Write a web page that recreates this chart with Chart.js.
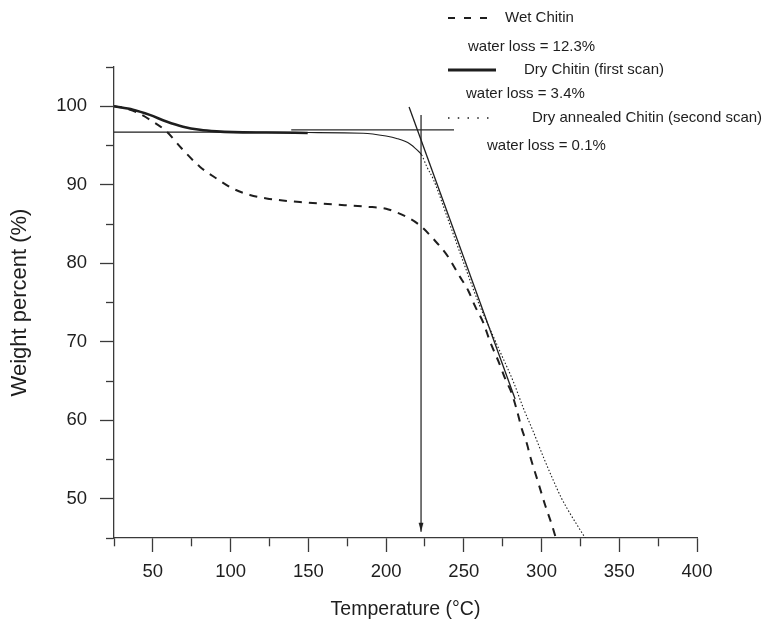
<!DOCTYPE html>
<html>
<head>
<meta charset="utf-8">
<script src="https://cdn.jsdelivr.net/npm/chart.js@4.4.0/dist/chart.umd.min.js"></script>
<style>
  html, body { margin: 0; padding: 0; background: #fff; }
  canvas { display: block; }
</style>
</head>
<body>
<canvas id="tgaChart" width="764" height="619"></canvas>
<script>
// temperature (°C) and weight (%)
const wetTemp = [25, 33, 40, 48, 58.7, 68.4, 80.2, 90.9, 101.6, 112.4, 123.1, 144.6, 166, 187.5, 200, 206.5, 213.3, 221.9, 230.4, 240, 246.5, 252.9, 257.3, 262.6, 266.9, 272.3, 276.6, 280.9, 284.1, 287.3, 290.6, 292.7, 297.5, 302.3, 306.6, 309.2];
const wetWeight = [100, 99.7, 99.2, 98.3, 96.8, 94.65, 92.3, 90.8, 89.5, 88.7, 88.25, 87.8, 87.5, 87.2, 86.95, 86.5, 85.9, 84.8, 83.1, 80.8, 78.6, 76.5, 74.5, 72.4, 70.0, 67.5, 65.3, 63.4, 61.3, 58.9, 57.0, 55.4, 52.3, 49.2, 46.7, 45];

const dryTemp = [25, 37.2, 48, 58.7, 69.4, 80.3, 91, 101.7, 123, 149.6];
const dryWeight = [100, 99.56, 98.9, 98.06, 97.4, 97.0, 96.8, 96.7, 96.65, 96.6];

const annealTemp = [25, 60, 100, 150, 185.3, 200, 206.8, 215.4, 220.1, 222.9, 226.2, 230.4, 240, 250, 260, 266, 273.4, 281.9, 288.4, 294.8, 301.2, 307, 313, 319, 324, 328.1];
const annealWeight = [96.7, 96.7, 96.7, 96.65, 96.57, 96.2, 95.9, 95.2, 94.4, 93.8, 92.3, 90.7, 85.5, 80.0, 74.7, 72.0, 68.7, 64.9, 61.5, 58.5, 55.3, 52.6, 50.0, 47.9, 46.3, 45];

// onset construction: tangent, baseline and the arrow down to the axis
const tangentTemp = [214.8, 283];
const tangentWeight = [99.9, 62.7];
const baseTemp = [139, 243.7];
const baseWeight = [97, 97];
const onsetTemp = [222.5, 222.5];
const onsetWeight = [98.9, 45.8];

const seriesLabels = ['Wet Chitin', 'Dry Chitin (first scan)', 'Dry annealed Chitin (second scan)'];
const waterLoss = ['12.3%', '3.4%', '0.1%'];

const xTickLabels = [50, 100, 150, 200, 250, 300, 350, 400];
const yTickLabels = [50, 60, 70, 80, 90, 100];

const FONT = '"Liberation Sans", Arial, Helvetica, sans-serif';
const INK = '#1e1e1e';
const AXIS = '#3a3a3a';

function pts(xs, ys) {
    return xs.map((x, i) => ({ x: x, y: ys[i] }));
}

// narrow arrow head, tip sits in the centre of the canvas
const arrowHead = document.createElement('canvas');
arrowHead.width = 6;
arrowHead.height = 20;
(function () {
    const c = arrowHead.getContext('2d');
    c.fillStyle = INK;
    c.beginPath();
    c.moveTo(0.6, 1);
    c.lineTo(5.4, 1);
    c.lineTo(3, 10);
    c.closePath();
    c.fill();
})();

// the legend of the figure: samples, names and water loss notes
const notesLegend = {
    id: 'notesLegend',
    afterDraw(chart) {
        const ctx = chart.ctx;
        const rows = [
            { y: 18, textX: 505, noteX: 468, noteY: 47, end: 487, dash: [7, 9], width: 2 },
            { y: 70, textX: 524, noteX: 466, noteY: 94, end: 496, dash: [], width: 3 },
            { y: 118, textX: 532, noteX: 487, noteY: 146, end: 488.5, dash: [1.5, 8.25], width: 1.4 }
        ];
        ctx.save();
        ctx.font = '15px ' + FONT;
        ctx.fillStyle = INK;
        ctx.textBaseline = 'middle';
        ctx.textAlign = 'left';
        rows.forEach((r, i) => {
            ctx.strokeStyle = INK;
            ctx.lineWidth = r.width;
            ctx.setLineDash(r.dash);
            ctx.beginPath();
            ctx.moveTo(448, r.y);
            ctx.lineTo(r.end, r.y);
            ctx.stroke();
            ctx.setLineDash([]);
            ctx.fillText(seriesLabels[i], r.textX, r.y);
            ctx.fillText('water loss = ' + waterLoss[i], r.noteX, r.noteY);
        });
        ctx.restore();
    }
};

const tickFont = { family: FONT, size: 18.5 };

new Chart(document.getElementById('tgaChart').getContext('2d'), {
    type: 'scatter',
    data: {
        datasets: [
            {
                label: seriesLabels[0],
                data: pts(wetTemp, wetWeight),
                showLine: true,
                borderColor: INK,
                borderWidth: 2,
                borderDash: [8, 7],
                pointRadius: 0,
                cubicInterpolationMode: 'monotone'
            },
            {
                label: seriesLabels[1],
                data: pts(dryTemp, dryWeight),
                showLine: true,
                borderColor: INK,
                borderWidth: 2.6,
                pointRadius: 0,
                cubicInterpolationMode: 'monotone'
            },
            {
                label: seriesLabels[2],
                data: pts(annealTemp, annealWeight),
                showLine: true,
                borderColor: INK,
                borderWidth: 1.1,
                pointRadius: 0,
                cubicInterpolationMode: 'monotone',
                segment: {
                    borderDash: ctx => ctx.p0.parsed.x >= 222 ? [1.5, 2] : undefined
                }
            },
            {
                label: 'tangent',
                data: pts(tangentTemp, tangentWeight),
                showLine: true,
                borderColor: INK,
                borderWidth: 1.3,
                pointRadius: 0
            },
            {
                label: 'baseline',
                data: pts(baseTemp, baseWeight),
                showLine: true,
                borderColor: '#2a2a2a',
                borderWidth: 1.3,
                pointRadius: 0
            },
            {
                label: 'onset',
                data: pts(onsetTemp, onsetWeight),
                showLine: true,
                borderColor: INK,
                borderWidth: 1.2,
                pointStyle: arrowHead,
                pointRadius: [0, 3]
            }
        ]
    },
    options: {
        responsive: false,
        animation: false,
        events: [],
        devicePixelRatio: 1,
        layout: { padding: { top: 67, right: 67, left: 0, bottom: 0 } },
        plugins: {
            legend: { display: false },
            tooltip: { enabled: false }
        },
        scales: {
            x: {
                type: 'linear',
                position: 'bottom',
                min: 25,
                max: 400,
                afterFit: s => { s.height = 81; },
                ticks: {
                    stepSize: 25,
                    autoSkip: false,
                    maxRotation: 0,
                    padding: 9,
                    color: INK,
                    font: tickFont,
                    callback: v => xTickLabels.includes(v) ? String(v) : ''
                },
                grid: {
                    drawOnChartArea: false,
                    tickLength: 14,
                    tickWidth: 1.3,
                    tickColor: AXIS,
                    tickBorderDash: ctx => (ctx.tick && ctx.tick.value % 50 !== 0) ? [8, 100] : []
                },
                border: { display: true, color: AXIS, width: 1.3 },
                title: {
                    display: true,
                    text: 'Temperature (°C)',
                    color: INK,
                    font: { family: FONT, size: 19.5, lineHeight: 1 },
                    padding: { top: 0, bottom: 0 }
                }
            },
            y: {
                type: 'linear',
                position: 'left',
                min: 45,
                max: 105,
                afterFit: s => { s.width = 114; },
                ticks: {
                    stepSize: 5,
                    autoSkip: false,
                    padding: 13,
                    color: INK,
                    font: tickFont,
                    callback: v => yTickLabels.includes(v) ? String(v) : ''
                },
                grid: {
                    drawOnChartArea: false,
                    tickLength: 14,
                    tickWidth: 1.3,
                    tickColor: AXIS,
                    // minor ticks: skip the outer 6px so only 8px touch the axis
                    tickBorderDash: ctx => (ctx.tick && ctx.tick.value % 10 !== 0) ? [9, 6] : [],
                    tickBorderDashOffset: ctx => (ctx.tick && ctx.tick.value % 10 !== 0) ? 9 : 0
                },
                border: { display: true, color: AXIS, width: 1.3 },
                title: {
                    display: true,
                    text: 'Weight percent (%)',
                    color: INK,
                    font: { family: FONT, size: 22, lineHeight: 1.2 },
                    padding: { top: 7, bottom: 0 }
                }
            }
        }
    },
    plugins: [notesLegend]
});
</script>
</body>
</html>
